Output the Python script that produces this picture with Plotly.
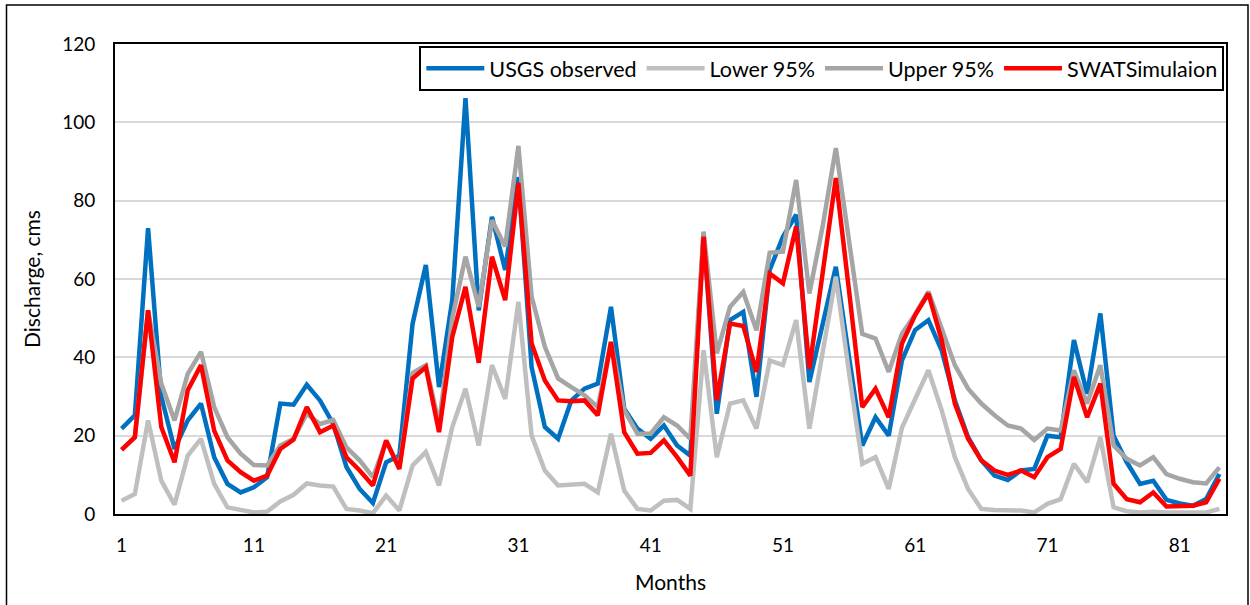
import plotly.graph_objects as go

months = list(range(1, 85))

usgs_observed = [21.8, 25.2, 73, 30, 16.6, 23.9, 28.2, 14.5, 7.7, 5.5,
                 6.8, 9.4, 28.2, 27.9, 33, 29, 23, 12, 6.4, 2.8,
                 13.2, 14.9, 48.6, 63.6, 32.4, 54.6, 106.2, 52, 75.9, 62.3,
                 86, 37.5, 22.2, 19.2, 29, 32, 33.3, 52.9, 26.9, 21.8,
                 19.2, 22.6, 17.5, 14.9, 71.5, 25.6, 49.5, 51.6, 29.9, 62.3,
                 70.8, 76.4, 33.7, 48.6, 63.1, 40, 17.5, 24.7, 20, 39.2,
                 47, 49.5, 41.8, 29, 19.6, 13.7, 9.8, 8.7, 11.1, 11.5,
                 20, 19.6, 44.4, 30.7, 51.2, 20, 13.2, 7.7, 8.5, 3.6,
                 2.7, 2.1, 3.8, 10.2]

lower_95 = [3.4, 5.1, 23.9, 8.5, 2.4, 14.9, 19.2, 7.7, 1.7, 1,
            0.4, 0.6, 3.2, 4.9, 7.8, 7.3, 7, 1.3, 0.9, 0.2,
            4.7, 0.9, 12.4, 15.8, 7.3, 22.2, 32, 17.5, 38, 29.4,
            54.2, 20, 11.1, 7.3, 7.4, 7.7, 5.5, 20.5, 6, 1.3,
            0.9, 3.4, 3.6, 1.3, 41.8, 14.5, 28.2, 29, 21.8, 39.2,
            38, 49.5, 21.8, 41, 60.6, 36, 12.8, 14.5, 6.4, 22,
            29.4, 36.7, 26.5, 14.5, 6.4, 1.3, 1, 0.9, 0.9, 0.4,
            2.6, 3.8, 12.8, 8.1, 19.6, 1.7, 0.7, 0.4, 0.6, 0.4,
            0.4, 0.4, 0.4, 1.3]

upper_95 = [16.5, 19.5, 52, 33.3, 23.9, 35.8, 41.4, 27.3, 19.6, 15.4,
            12.5, 12.4, 17.5, 19.2, 25.6, 23, 24, 17, 13.7, 9.4,
            18.5, 12, 36, 38, 23, 50, 65.7, 52.9, 75, 68.3,
            94, 55.5, 42.7, 34.6, 32.4, 30.3, 27.3, 44, 26.5, 20.5,
            20.5, 24.7, 22.6, 19.2, 72.1, 41, 52.9, 56.7, 46.9, 66.7,
            67, 85.3, 56.3, 73.4, 93.4, 70, 46, 44.8, 36.3, 46,
            51, 56.8, 47.8, 38, 32, 28.2, 25.2, 22.6, 21.8, 18.9,
            21.8, 21.3, 36.7, 28.2, 38, 17.5, 14.1, 12.4, 14.5, 10.2,
            9, 8.1, 7.8, 11.9]

swat_simulation = [16.4, 19.6, 52, 22.2, 13.2, 31.6, 38, 21.3, 13.7, 10.7,
                   8.5, 9.8, 16.6, 19, 27.3, 20.9, 22.6, 14.5, 11.1, 7.3,
                   18.8, 11.5, 34.6, 37.5, 20.9, 45.2, 58, 38.6, 65.7, 54.6,
                   84.5, 43.5, 34.1, 29, 28.8, 29, 25.2, 43.9, 20.9, 15.4,
                   15.6, 18.8, 14.5, 9.8, 70.8, 29, 48.6, 48, 36.3, 61.4,
                   58.9, 73.4, 37.1, 61.4, 85.8, 57, 27.3, 32, 24.7, 43.5,
                   50.8, 56.3, 44.4, 28.2, 19.2, 13.7, 11.1, 10, 11.1, 9.4,
                   14.5, 16.6, 35, 24.7, 33.3, 7.7, 3.8, 3, 5.5, 1.9,
                   1.9, 2.1, 3, 9]

x_ticks = [1, 11, 21, 31, 41, 51, 61, 71, 81]
y_ticks = [0, 20, 40, 60, 80, 100, 120]

FONT = "Lato"
series = [
    ("USGS observed", usgs_observed, "#0070C0"),
    ("Lower 95%", lower_95, "#BFBFBF"),
    ("Upper 95%", upper_95, "#A5A5A5"),
    ("SWATSimulaion", swat_simulation, "#FF0000"),
]

fig = go.Figure()
for name, vals, color in series:
    fig.add_trace(go.Scatter(x=months, y=vals, mode="lines", name=name,
                             line=dict(color=color, width=4.5)))

L, R, T, B = 115, 24, 44, 91
W, H = 1250, 605
pw, ph = W - L - R, H - T - B


def px_to_paper_x(px):
    return (px - L) / pw


def px_to_paper_y(py):
    return 1 - (py - T) / ph


fig.update_layout(
    width=W, height=H,
    margin=dict(l=L, r=R, t=T, b=B, autoexpand=False),
    paper_bgcolor="white", plot_bgcolor="white",
    font=dict(family=FONT, size=19, color="black"),
    showlegend=True,
    legend=dict(orientation="h", x=0.9985, xanchor="right", y=0.996, yanchor="top",
                bgcolor="white", bordercolor="black", borderwidth=2,
                font=dict(family=FONT, size=21.5, color="black"),
                itemwidth=58, tracegroupgap=0),
    xaxis=dict(range=[0.5, 84.5], tickmode="array", tickvals=x_ticks,
               showgrid=False, zeroline=False, showline=True, mirror=True,
               linecolor="black", linewidth=2, ticks="", automargin=False,
               ticklabelstandoff=13,
               tickfont=dict(family=FONT, size=19, color="black"),
               title=dict(text="Months", font=dict(family=FONT, size=21, color="black"),
                          standoff=21)),
    yaxis=dict(range=[0, 120], tickmode="array", tickvals=y_ticks,
               showgrid=True, gridcolor="#D9D9D9", gridwidth=1.5, zeroline=False,
               showline=True, mirror=True, linecolor="black", linewidth=2, ticks="",
               automargin=False,
               tickfont=dict(family=FONT, size=19, color="black"),
               ticklabelstandoff=14,
               title=dict(text="Discharge, cms", font=dict(family=FONT, size=21, color="black"),
                          standoff=16)),
)

# outer chart-area border (bottom edge lies outside the picture)
fig.add_shape(type="rect", xref="paper", yref="paper",
              x0=px_to_paper_x(6.5), x1=px_to_paper_x(1248),
              y0=px_to_paper_y(612), y1=px_to_paper_y(5),
              line=dict(color="black", width=1.5), fillcolor="rgba(0,0,0,0)",
              layer="below")

fig.write_html("out.html")
